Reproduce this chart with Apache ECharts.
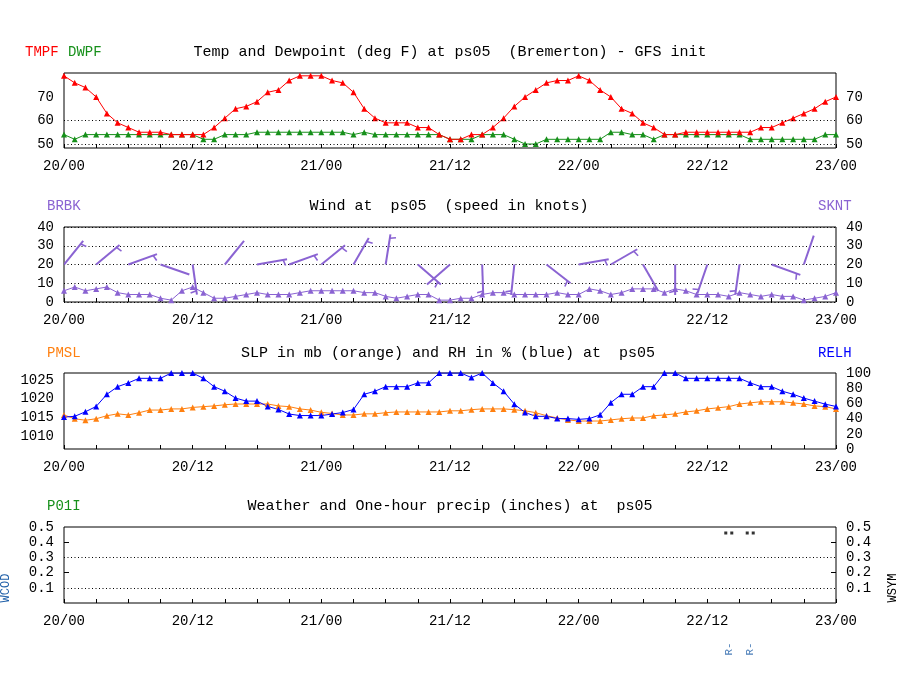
<!DOCTYPE html>
<html>
<head>
<meta charset="utf-8">
<script src="https://cdn.jsdelivr.net/npm/echarts@6/dist/echarts.min.js"></script>
<style>
html, body { margin: 0; padding: 0; background: #fff; }
#chart { width: 900px; height: 700px; }
</style>
</head>
<body>
<div id="chart"></div>
<script>
// hourly values, 20/00 .. 23/00 (73 hours)
var tickLabels = ['20/00', '20/12', '21/00', '21/12', '22/00', '22/12', '23/00'];

var tmpf = [79,76,74,70,63,59,57,55,55,55,54,54,54,54,57,61,65,66,68,72,73,77,79,79,79,77,76,72,65,61,59,59,59,57,57,54,
            52,52,54,54,57,61,66,70,73,76,77,77,79,77,73,70,65,63,59,57,54,54,55,55,55,55,55,55,55,57,57,59,61,63,65,68,70];
var dwpf = [54,52,54,54,54,54,54,54,54,54,54,54,54,52,52,54,54,54,55,55,55,55,55,55,55,55,55,54,55,54,54,54,54,54,54,54,
            52,52,52,54,54,54,52,50,50,52,52,52,52,52,52,55,55,54,54,52,54,54,54,54,54,54,54,54,52,52,52,52,52,52,52,54,54];

var sknt = [6,8,6,7,8,5,4,4,4,2,1,6,8,5,2,2,3,4,5,4,4,4,5,6,6,6,6,6,5,5,3,2,3,4,4,1,
            1,2,2,4,5,5,4,4,4,4,5,4,4,7,6,4,5,7,7,7,5,7,6,4,4,4,3,5,4,3,4,3,3,1,2,3,5];
// wind barbs every 3 hours: direction the staff points (deg)
var barbHours = [0,3,6,9,12,15,18,21,24,27,30,33,36,39,42,45,48,51,54,57,60,63,66,69];
var barbDir   = [39,50,70,109,172,39,80,70,51,30,9,131,229,178,186,128,80,60,150,180,199,188,110,19];

var pmsl = [1015.7,1014.7,1014.3,1014.7,1015.5,1016.0,1015.7,1016.3,1017.0,1017.0,1017.3,1017.3,1017.7,1017.9,1018.1,1018.4,
            1018.6,1018.6,1018.6,1018.6,1018.1,1017.9,1017.3,1017.0,1016.4,1016.1,1015.7,1015.7,1016.0,1016.0,1016.3,1016.5,
            1016.5,1016.5,1016.5,1016.5,1016.8,1016.8,1017.1,1017.3,1017.3,1017.3,1017.1,1016.8,1016.3,1015.5,1014.9,1014.4,
            1014.1,1014.1,1014.1,1014.4,1014.7,1014.9,1014.9,1015.5,1015.7,1016.0,1016.5,1016.8,1017.3,1017.6,1017.9,1018.6,
            1018.9,1019.2,1019.2,1019.2,1018.9,1018.6,1018.1,1017.9,1017.3];
var relh = [42,43,49,56,72,82,87,93,93,93,100,100,100,93,82,76,67,63,63,56,52,46,44,44,44,46,48,52,72,76,82,82,82,87,87,100,
            100,100,94,100,87,76,59,48,43,43,40,40,39,40,45,61,72,72,82,82,100,100,93,93,93,93,93,93,87,82,82,76,72,67,63,59,56];

// weather
var wsymHours = [62, 64];
var wsymLevel = 0.46;
var wcodHours = [62, 64];
var wcodText = ['R-', 'R-'];

var FONT = 'Liberation Mono';
var RED = '#ff0000', GREEN = '#16901a', PURPLE = '#8a63d2', ORANGE = '#ff8010', BLUE = '#0000ff', WBLUE = '#1f5fa8';

function pairs(arr) {
  return arr.map(function (v, i) { return [i, v]; });
}

var grids = [
  { left: 64, width: 772, top: 73, height: 75 },
  { left: 64, width: 772, top: 227, height: 75 },
  { left: 64, width: 772, top: 373, height: 76 },
  { left: 64, width: 772, top: 527, height: 76 }
].map(function (g) {
  g.show = true; g.borderColor = '#000'; g.borderWidth = 1; g.backgroundColor = 'transparent';
  return g;
});

var lbl = { fontFamily: FONT, fontSize: 14, color: '#000' };
var dotted = { color: '#000', type: [1, 2.5], width: 1 };
function plain(v) { return String(v); }

function xAxisFor(gi) {
  return {
    type: 'value', gridIndex: gi, min: 0, max: 72, interval: 3,
    axisLine: { show: false },
    axisTick: { inside: true, length: 4, lineStyle: { color: '#000' } },
    axisLabel: Object.assign({ margin: 11, formatter: function (v) {
      return v % 12 === 0 ? tickLabels[v / 12] : '';
    } }, lbl),
    splitLine: { show: false }
  };
}

function yAxisFor(gi, pos, o) {
  return Object.assign({
    type: 'value', gridIndex: gi, position: pos,
    axisLine: { show: false },
    axisTick: { show: false },
    splitLine: { show: false }
  }, o);
}

function ylbl(extra) {
  return Object.assign({ margin: 10, formatter: plain }, lbl, extra || {});
}

function lineSeries(name, data, color, xi, yi, extra) {
  return Object.assign({
    name: name, type: 'line', xAxisIndex: xi, yAxisIndex: yi,
    data: pairs(data), symbol: 'triangle', symbolSize: 6,
    lineStyle: { color: color, width: 1 }, itemStyle: { color: color },
    animation: false
  }, extra || {});
}

var precipTick = { show: true, inside: true, length: 5, customValues: [0.2, 0.4], lineStyle: { color: '#000' } };
var precipLbl = ylbl({ customValues: [0.1, 0.2, 0.3, 0.4, 0.5], formatter: function (v) { return v.toFixed(1); } });

var option = {
  backgroundColor: '#fff',
  animation: false,
  grid: grids,
  xAxis: [xAxisFor(0), xAxisFor(1), xAxisFor(2), xAxisFor(3)],
  yAxis: [
    yAxisFor(0, 'left',  { min: 48.3, max: 80.2, axisLabel: ylbl({ customValues: [50, 60, 70] }) }),
    yAxisFor(0, 'right', { min: 48.3, max: 80.2, axisLabel: ylbl({ customValues: [50, 60, 70] }) }),
    yAxisFor(1, 'left',  { min: 0, max: 40, interval: 10, axisLabel: ylbl(),
                           splitLine: { show: true, lineStyle: dotted } }),
    yAxisFor(1, 'right', { min: 0, max: 40, interval: 10, axisLabel: ylbl() }),
    yAxisFor(2, 'left',  { min: 1006.7, max: 1026.8, axisLabel: ylbl({ customValues: [1010, 1015, 1020, 1025] }) }),
    yAxisFor(2, 'right', { min: 0, max: 100, interval: 20, axisLabel: ylbl() }),
    yAxisFor(3, 'left',  { min: 0, max: 0.5, axisTick: precipTick, axisLabel: precipLbl }),
    yAxisFor(3, 'right', { min: 0, max: 0.5, axisTick: precipTick, axisLabel: precipLbl })
  ],
  series: [
    lineSeries('DWPF', dwpf, GREEN, 0, 0, {
      markLine: { silent: true, symbol: 'none', label: { show: false }, lineStyle: dotted,
                  data: [{ yAxis: 50 }, { yAxis: 60 }] }
    }),
    lineSeries('TMPF', tmpf, RED, 0, 0),
    lineSeries('SKNT', sknt, PURPLE, 1, 2),
    {
      name: 'BRBK', type: 'custom', xAxisIndex: 1, yAxisIndex: 2, clip: true,
      data: barbHours.map(function (h, i) { return [h, barbDir[i], sknt[h]]; }),
      renderItem: function (params, api) {
        var base = api.coord([api.value(0), 20]);
        var th = api.value(1) * Math.PI / 180;
        var dx = Math.sin(th), dy = -Math.cos(th);
        var len = 30.5;
        var tip = [base[0] + dx * len, base[1] + dy * len];
        var st = { stroke: PURPLE, lineWidth: 2 };
        var kids = [{ type: 'line', shape: { x1: base[0], y1: base[1], x2: tip[0], y2: tip[1] }, style: st }];
        if (api.value(2) >= 3) {
          var s = [tip[0] - dx * 4, tip[1] - dy * 4];
          kids.push({ type: 'line', style: { stroke: PURPLE, lineWidth: 1.6 },
            shape: { x1: s[0], y1: s[1], x2: s[0] - dy * 6 + dx * 1.5, y2: s[1] + dx * 6 + dy * 1.5 } });
        }
        return { type: 'group', children: kids };
      },
      animation: false
    },
    lineSeries('PMSL', pmsl, ORANGE, 2, 4),
    lineSeries('RELH', relh, BLUE, 2, 5),
    {
      name: 'WSYM', type: 'scatter', xAxisIndex: 3, yAxisIndex: 6,
      data: wsymHours.map(function (h) { return [h, wsymLevel]; }),
      symbol: 'path://M0,0h3v3h-3z M6,0h3v3h-3z', symbolSize: [9, 3],
      itemStyle: { color: '#000' },
      markLine: { silent: true, symbol: 'none', label: { show: false }, lineStyle: dotted,
                  data: [{ yAxis: 0.1 }, { yAxis: 0.3 }] },
      animation: false
    },
    {
      name: 'WCOD', type: 'scatter', xAxisIndex: 3, yAxisIndex: 6, clip: false,
      data: wcodHours.map(function (h) { return [h, 0]; }),
      symbolSize: 0,
      label: { show: true, position: 'inside', offset: [-46, 0], rotate: 90,
               formatter: function (p) { return wcodText[p.dataIndex]; },
               fontFamily: FONT, fontSize: 11, color: WBLUE },
      animation: false
    }
  ],
  graphic: [
    { type: 'text', x: 450, y: 52, style: { text: 'Temp and Dewpoint (deg F) at ps05  (Bremerton) - GFS init', font: '15px "Liberation Mono"', fill: '#000', align: 'center', verticalAlign: 'middle' } },
    { type: 'text', x: 25, y: 52, style: { text: 'TMPF', font: '14px "Liberation Mono"', fill: RED, verticalAlign: 'middle' } },
    { type: 'text', x: 68, y: 52, style: { text: 'DWPF', font: '14px "Liberation Mono"', fill: GREEN, verticalAlign: 'middle' } },
    { type: 'text', x: 449, y: 206, style: { text: 'Wind at  ps05  (speed in knots)', font: '15px "Liberation Mono"', fill: '#000', align: 'center', verticalAlign: 'middle' } },
    { type: 'text', x: 47, y: 206, style: { text: 'BRBK', font: '14px "Liberation Mono"', fill: PURPLE, verticalAlign: 'middle' } },
    { type: 'text', x: 818, y: 206, style: { text: 'SKNT', font: '14px "Liberation Mono"', fill: PURPLE, verticalAlign: 'middle' } },
    { type: 'text', x: 448, y: 353, style: { text: 'SLP in mb (orange) and RH in % (blue) at  ps05', font: '15px "Liberation Mono"', fill: '#000', align: 'center', verticalAlign: 'middle' } },
    { type: 'text', x: 47, y: 353, style: { text: 'PMSL', font: '14px "Liberation Mono"', fill: ORANGE, verticalAlign: 'middle' } },
    { type: 'text', x: 818, y: 353, style: { text: 'RELH', font: '14px "Liberation Mono"', fill: BLUE, verticalAlign: 'middle' } },
    { type: 'text', x: 450, y: 506, style: { text: 'Weather and One-hour precip (inches) at  ps05', font: '15px "Liberation Mono"', fill: '#000', align: 'center', verticalAlign: 'middle' } },
    { type: 'text', x: 47, y: 506, style: { text: 'P01I', font: '14px "Liberation Mono"', fill: GREEN, verticalAlign: 'middle' } },
    { type: 'text', x: 6, y: 588, rotation: Math.PI / 2, style: { text: 'WCOD', font: '12px "Liberation Mono"', fill: WBLUE, align: 'center', verticalAlign: 'middle' } },
    { type: 'text', x: 893, y: 588, rotation: Math.PI / 2, style: { text: 'WSYM', font: '12px "Liberation Mono"', fill: '#000', align: 'center', verticalAlign: 'middle' } }
  ]
};

var myChart = echarts.init(document.getElementById('chart'));
myChart.setOption(option);
</script>
</body>
</html>
